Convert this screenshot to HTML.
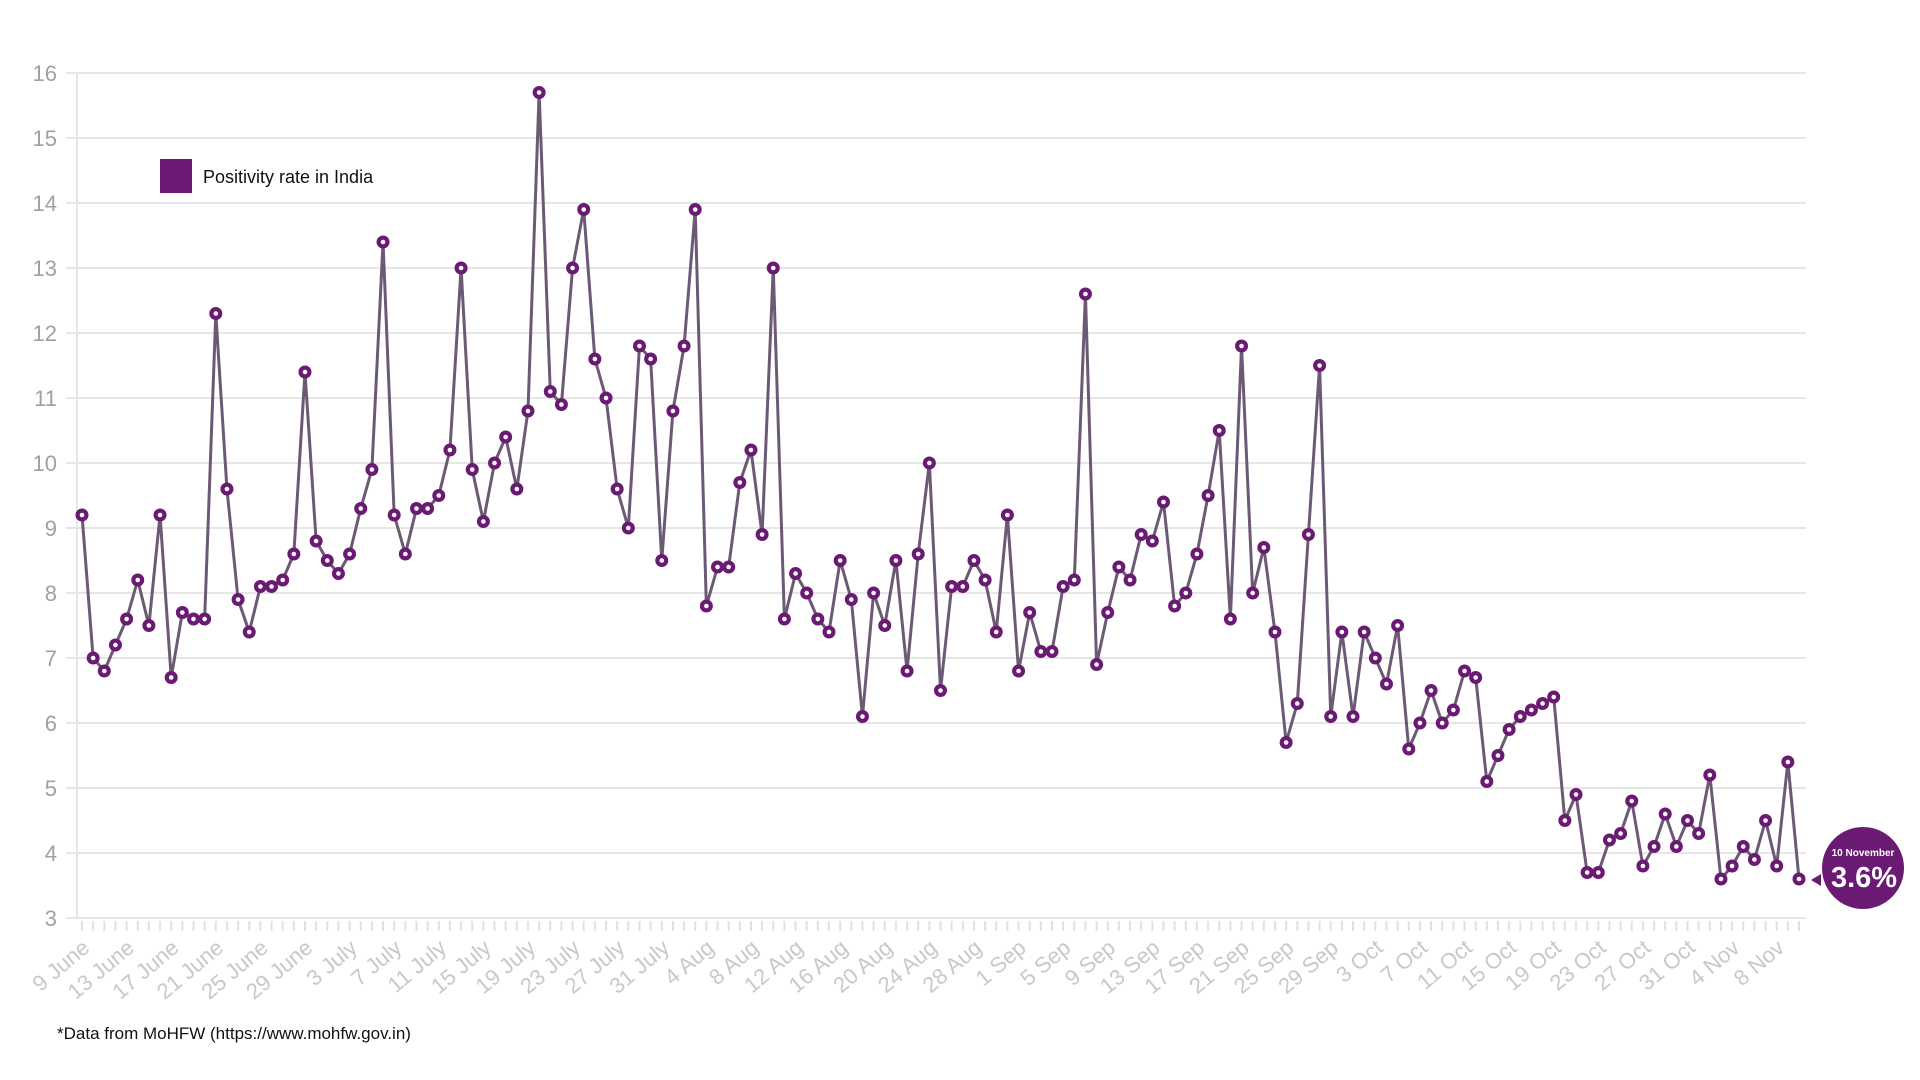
<!DOCTYPE html>
<html><head><meta charset="utf-8">
<style>
html,body{margin:0;padding:0;background:#fff;width:1920px;height:1080px;overflow:hidden}
svg{display:block}
</style></head>
<body>
<svg id="chart" width="1920" height="1080" xmlns="http://www.w3.org/2000/svg">
<g id="grid"></g>
<g id="yaxis"></g>
<g id="xaxis"></g>
<g id="series"></g>
<g>
<rect x="160" y="159" width="32" height="34" fill="#6b1a73"/>
<text x="203" y="183" font-family="Liberation Sans, sans-serif" font-size="18" fill="#111">Positivity rate in India</text>
</g>
<g>
<polygon points="1811,880 1821,874 1821,886" fill="#6b1a73"/>
<circle cx="1863" cy="868" r="41" fill="#6b1a73"/>
<text x="1863" y="856" text-anchor="middle" font-family="Liberation Sans, sans-serif" font-size="10" font-weight="bold" fill="#fff">10 November</text>
<text x="1864" y="887" text-anchor="middle" font-family="Liberation Sans, sans-serif" font-size="29" font-weight="bold" fill="#fff">3.6%</text>
</g>
<text x="57" y="1039" font-family="Liberation Sans, sans-serif" font-size="17" fill="#111">*Data from MoHFW (https://www.mohfw.gov.in)</text>
</svg>
<script>
const yTicks=[3,4,5,6,7,8,9,10,11,12,13,14,15,16];
const xTickLabels=["9 June","13 June","17 June","21 June","25 June","29 June","3 July","7 July","11 July","15 July","19 July","23 July","27 July","31 July","4 Aug","8 Aug","12 Aug","16 Aug","20 Aug","24 Aug","28 Aug","1 Sep","5 Sep","9 Sep","13 Sep","17 Sep","21 Sep","25 Sep","29 Sep","3 Oct","7 Oct","11 Oct","15 Oct","19 Oct","23 Oct","27 Oct","31 Oct","4 Nov","8 Nov"];
const positivity=[9.2,7.0,6.8,7.2,7.6,8.2,7.5,9.2,6.7,7.7,7.6,7.6,12.3,9.6,7.9,7.4,8.1,8.1,8.2,8.6,11.4,8.8,8.5,8.3,8.6,9.3,9.9,13.4,9.2,8.6,9.3,9.3,9.5,10.2,13.0,9.9,9.1,10.0,10.4,9.6,10.8,15.7,11.1,10.9,13.0,13.9,11.6,11.0,9.6,9.0,11.8,11.6,8.5,10.8,11.8,13.9,7.8,8.4,8.4,9.7,10.2,8.9,13.0,7.6,8.3,8.0,7.6,7.4,8.5,7.9,6.1,8.0,7.5,8.5,6.8,8.6,10.0,6.5,8.1,8.1,8.5,8.2,7.4,9.2,6.8,7.7,7.1,7.1,8.1,8.2,12.6,6.9,7.7,8.4,8.2,8.9,8.8,9.4,7.8,8.0,8.6,9.5,10.5,7.6,11.8,8.0,8.7,7.4,5.7,6.3,8.9,11.5,6.1,7.4,6.1,7.4,7.0,6.6,7.5,5.6,6.0,6.5,6.0,6.2,6.8,6.7,5.1,5.5,5.9,6.1,6.2,6.3,6.4,4.5,4.9,3.7,3.7,4.2,4.3,4.8,3.8,4.1,4.6,4.1,4.5,4.3,5.2,3.6,3.8,4.1,3.9,4.5,3.8,5.4,3.6];

const NS="http://www.w3.org/2000/svg";
const X0=82,X1=1799,Y3=918,Y16=73;
const n=positivity.length;
function x(i){return X0+(X1-X0)*i/(n-1);}
function y(v){return Y3-(v-3)*(Y3-Y16)/13;}
function mk(tag,attrs,parent){const e=document.createElementNS(NS,tag);for(const k in attrs)e.setAttribute(k,attrs[k]);parent.appendChild(e);return e;}
const grid=document.getElementById('grid'),ya=document.getElementById('yaxis'),xa=document.getElementById('xaxis'),se=document.getElementById('series');
yTicks.forEach(t=>{
  const l=mk('line',{x1:66,x2:1806,y1:y(t),y2:y(t),stroke:'#e6e6e6','stroke-width':2},grid);
  
  
  const tx=mk('text',{x:57,y:y(t)+8,'text-anchor':'end','font-family':'Liberation Sans, sans-serif','font-size':22,fill:'#a0a0a0'},ya);
  tx.textContent=t;
  
  
});
const ax=mk('line',{x1:77,x2:77,y1:Y16,y2:Y3,stroke:'#e6e6e6','stroke-width':2},grid);


for(let i=0;i<n;i++){
  const t=mk('line',{x1:x(i),x2:x(i),y1:Y3+3,y2:Y3+13,stroke:'#e2e2e2','stroke-width':2},xa);
  
  
}
xTickLabels.forEach((s,k)=>{
  const i=k*4;const px=x(i)+9,py=Y3+32;
  const tx=mk('text',{x:px,y:py,'text-anchor':'end','font-family':'Liberation Sans, sans-serif','font-size':22,fill:'#c8c8c8',transform:`rotate(-40 ${px} ${py})`},xa);
  tx.textContent=s;
  
  
});
const pl=mk('polyline',{points:positivity.map((v,i)=>x(i)+','+y(v)).join(' '),fill:'none',stroke:'#6c5a74','stroke-width':3,'stroke-linejoin':'round'},se);


positivity.forEach((v,i)=>{
  const c=mk('circle',{cx:x(i),cy:y(v),r:6.5,fill:'#6b1a73'},se);
  
  
  const d=mk('circle',{cx:x(i),cy:y(v),r:2.3,fill:'#fff'},se);
  
  
});
</script>
</body></html>
